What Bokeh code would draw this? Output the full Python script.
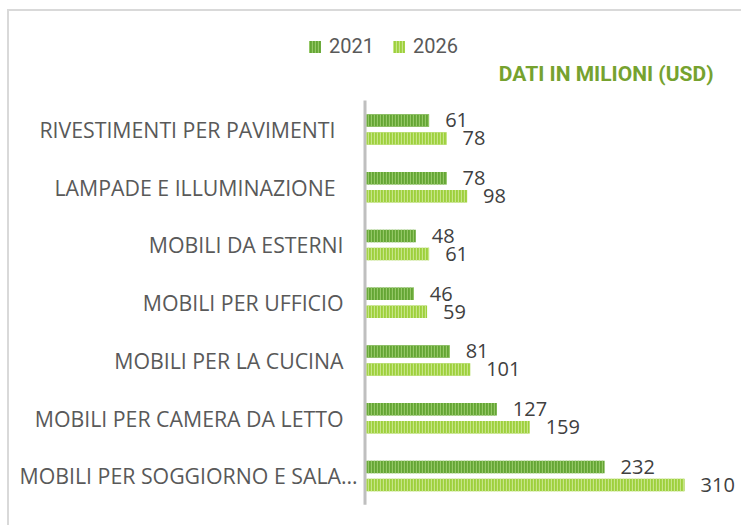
from bokeh.plotting import figure
from bokeh.models import Range1d, Legend, LegendItem, Label, ColumnDataSource
from bokeh.transform import dodge
from bokeh.core.properties import value
from bokeh.embed import file_html
from bokeh.resources import INLINE

categories = [
    "RIVESTIMENTI PER PAVIMENTI",
    "LAMPADE E ILLUMINAZIONE",
    "MOBILI DA ESTERNI",
    "MOBILI PER UFFICIO",
    "MOBILI PER LA CUCINA",
    "MOBILI PER CAMERA DA LETTO",
    "MOBILI PER SOGGIORNO E SALA…",
]
values_2021 = [61, 78, 48, 46, 81, 127, 232]
values_2026 = [78, 98, 61, 59, 101, 159, 310]
series_names = ["2021", "2026"]
title_text = "DATI IN MILIONI (USD)"

# label placement (style): left offset of each category label from the axis
label_offsets = [-31, -31, -23, -23, -23, -23, -9]

n = len(categories)
ypos = [n - 1 - i for i in range(n)]  # first category on top

source = ColumnDataSource(dict(
    cat=categories,
    y=ypos,
    v2021=values_2021,
    v2026=values_2026,
    t2021=[str(v) for v in values_2021],
    t2026=[str(v) for v in values_2026],
    loff=label_offsets,
))

p = figure(
    width=734, height=516,
    x_range=Range1d(-348, 367.4),
    y_range=Range1d(-0.892, 8.043),
    output_backend="svg", toolbar_location=None,
    x_axis_location=None, y_axis_location=None,
    min_border=0,
)
p.styles = {"margin-left": "7px", "margin-top": "9px",
            "border-left": "2px solid #d9d9d9", "border-top": "2px solid #d9d9d9"}
p.outline_line_color = None
p.xgrid.visible = False
p.ygrid.visible = False

# axis line
p.segment(x0=[-1.5], y0=[-0.5], x1=[-1.5], y1=[n - 0.5], line_color="#bfbfbf", line_width=3)

off = 0.156
bh = 0.217
r1 = p.hbar(y=dodge("y", off), right="v2021", left=0, height=bh, source=source,
            fill_color="#64a534", line_color=None,
            hatch_pattern="vertical_line", hatch_color="#94c766", hatch_scale=3, hatch_weight=1.3)
r2 = p.hbar(y=dodge("y", -off), right="v2026", left=0, height=bh, source=source,
            fill_color="#9dd03c", line_color=None,
            hatch_pattern="vertical_line", hatch_color="#c6e587", hatch_scale=3, hatch_weight=1.3)

p.text(x="v2021", y=dodge("y", off), text="t2021", source=source,
       x_offset=16, text_baseline="middle", text_align="left",
       text_font=value("Open Sans"), text_font_size="20px", text_color="#404040")
p.text(x="v2026", y=dodge("y", -off), text="t2026", source=source,
       x_offset=16, text_baseline="middle", text_align="left",
       text_font=value("Open Sans"), text_font_size="20px", text_color="#404040")

# category labels
p.text(x=0, y="y", text="cat", source=source,
       x_offset="loff", text_baseline="middle", text_align="right",
       text_font=value("Open Sans"), text_font_size="21.3px", text_color="#595959")

legend = Legend(
    items=[LegendItem(label=series_names[0], renderers=[r1]),
           LegendItem(label=series_names[1], renderers=[r2])],
    orientation="horizontal", location=(298, 469),
    padding=0, margin=0, spacing=17, label_standoff=7,
    glyph_width=15, glyph_height=15,
    label_text_font="Roboto", label_text_font_size="20px", label_text_color="#595959",
    border_line_color=None, background_fill_alpha=0,
)
p.add_layout(legend, "center")

title = Label(x=704, y=454, x_units="screen", y_units="screen", text=title_text,
              text_align="right", text_baseline="alphabetic",
              text_font="Roboto", text_font_size="21px", text_font_style="bold",
              text_color="#76a22f")
p.add_layout(title)

open("out.html", "w").write(file_html(p, INLINE))
